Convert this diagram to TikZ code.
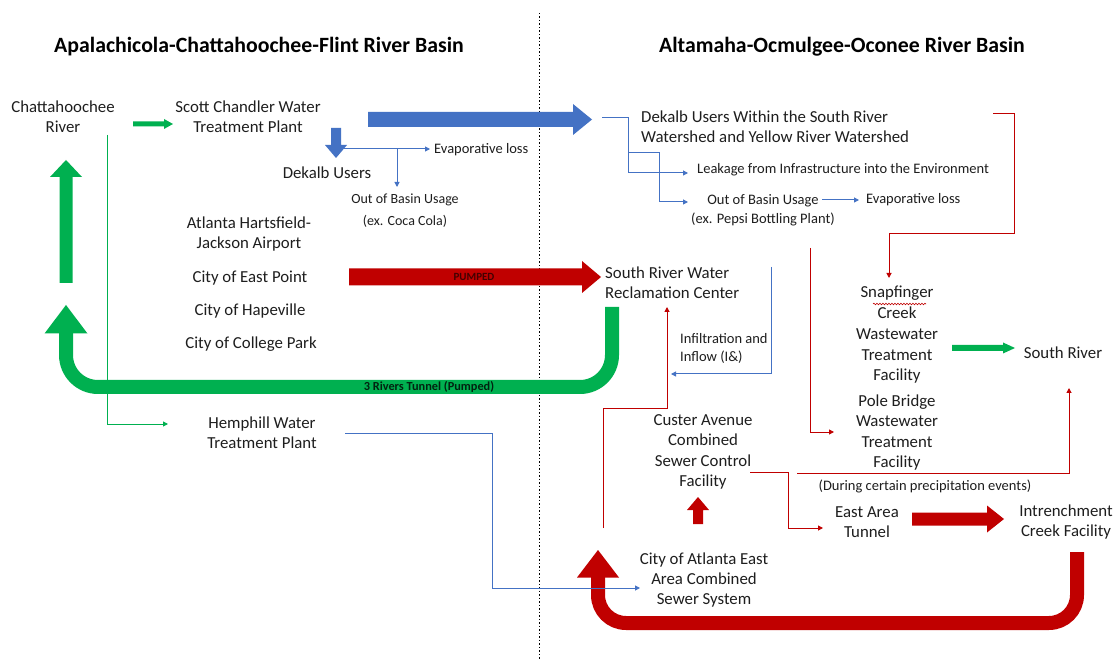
\documentclass[tikz,border=0pt]{standalone}
\usepackage{fontspec}
\setmainfont{Carlito}
\usetikzlibrary{arrows.meta,decorations.pathmorphing,calc}
\definecolor{cblue}{HTML}{4472C4}
\definecolor{cgreen}{HTML}{00B050}
\definecolor{cred}{HTML}{C00000}
\definecolor{tc}{HTML}{1E1E1E}
\begin{document}
\begin{tikzpicture}[x=1pt,y=-1pt,
  mainf/.style={font=\fontsize{16.8}{20.4}\selectfont, text=tc, align=center, inner sep=0pt},
  smallf/.style={font=\fontsize{14.5}{19}\selectfont, text=tc, align=center, inner sep=0pt},
  ttl/.style={font=\bfseries\fontsize{21.8}{26}\selectfont, text=black, inner sep=0pt},
  tb/.style={draw=cblue, line width=1pt, -{Triangle[width=5pt,length=5pt]}},
  tg/.style={draw=cgreen, line width=1pt, -{Triangle[width=5pt,length=5pt]}},
  trd/.style={draw=cred, line width=1pt, -{Triangle[width=5pt,length=5pt]}},
  tbn/.style={draw=cblue, line width=1pt}
]
\fill[white] (0,0) rectangle (1117,660);
\useasboundingbox (0,0) rectangle (1117,660);

% divider
\draw[black, line width=1pt, dash pattern=on 1.5pt off 2pt] (539,13) -- (539,660);

% titles
\node[ttl] (tl) at (259,47) {Apalachicola-Chattahoochee-Flint River Basin};
\node[ttl] (tr) at (842,47) {Altamaha-Ocmulgee-Oconee River Basin};

% left side text
\node[mainf] (chat) at (63,117) {Chattahoochee\\River};
\node[mainf] (scott) at (248,117) {Scott Chandler Water\\Treatment Plant};
\node[mainf] (dekalb) at (327,173) {Dekalb Users};
\node[smallf, font=\fontsize{14}{22}\selectfont] (oob1) at (405,211) {Out of Basin Usage\\(ex. Coca Cola)};
\node[smallf, anchor=west] (evap1) at (434,150) {Evaporative loss};
\node[mainf] (atl) at (249,234) {Atlanta Hartsfield-\\Jackson Airport};
\node[mainf] (eastpt) at (250,278) {City of East Point};
\node[mainf] (hape) at (250,311) {City of Hapeville};
\node[mainf] (college) at (251,344) {City of College Park};
\node[mainf] (hemp) at (262,433) {Hemphill Water\\Treatment Plant};

% right side text
\node[mainf, align=left, anchor=west] (dkw) at (641,127) {Dekalb Users Within the South River\\Watershed and Yellow River Watershed};
\node[smallf, anchor=west] (leak) at (697,170) {Leakage from Infrastructure into the Environment};
\node[smallf] (oob2) at (763,210.5) {Out of Basin Usage\\(ex. Pepsi Bottling Plant)};
\node[smallf, anchor=west] (evap2) at (866,200) {Evaporative loss};
\node[mainf, align=left, anchor=west] (srwrc) at (605,282.5) {South River Water\\Reclamation Center};
\node[smallf, align=left, anchor=west, font=\fontsize{14.5}{18}\selectfont] (infl) at (680,348) {Infiltration and\\Inflow (I\&)};
\node[mainf, font=\fontsize{16.8}{20.75}\selectfont] (snap) at (897,335) {Snapfinger\\Creek\\Wastewater\\Treatment\\Facility};
\node[mainf] (pole) at (897,432.5) {Pole Bridge\\Wastewater\\Treatment\\Facility};
\node[mainf] (southr) at (1063,353) {South River};
\node[mainf] (custer) at (703,452) {Custer Avenue\\Combined\\Sewer Control\\Facility};
\node[smallf] (during) at (925,486) {(During certain precipitation events)};
\node[mainf] (eastarea) at (867,522) {East Area\\Tunnel};
\node[mainf] (intr) at (1066,522) {Intrenchment\\Creek Facility};
\node[mainf] (coa) at (704,580) {City of Atlanta East\\Area Combined\\Sewer System};

% spell-check squiggle under Snapfinger
\draw[cred, line width=0.6pt, decorate, decoration={snake, amplitude=0.8pt, segment length=3pt}] (873,304) -- (926,304);

% ---------- block arrows ----------
% Scott Chandler -> Dekalb Users Within (big blue)
\fill[cblue] (368,112) -- (573,112) -- (573,104) -- (592,119.5) -- (573,135) -- (573,127) -- (368,127) -- cycle;
% Chattahoochee -> Scott Chandler (small green)
\fill[cgreen] (133,121.5) -- (164,121.5) -- (164,119) -- (173,124) -- (164,129) -- (164,126.5) -- (133,126.5) -- cycle;
% Scott Chandler -> Dekalb Users (small blue down)
\fill[cblue] (331,128) -- (341,128) -- (341,145) -- (347,145) -- (336,158) -- (325,145) -- (331,145) -- cycle;
% Pumped red
\fill[cred] (349,268.5) -- (582,268.5) -- (582,261) -- (601,277) -- (582,293) -- (582,285.5) -- (349,285.5) -- cycle;
\node[font=\bfseries\fontsize{11}{12}\selectfont, text=black!65!cred, inner sep=0pt] (pumped) at (474,277) {PUMPED};
% green up to Chattahoochee
\fill[cgreen] (59.5,283) -- (59.5,177) -- (50,177) -- (66,160) -- (82,177) -- (72.5,177) -- (72.5,283) -- cycle;
% 3 Rivers Tunnel loop
\draw[cgreen, line width=14pt, rounded corners=32pt] (612,307) -- (612,387) -- (66,387) -- (66,333);
\fill[cgreen] (44.5,333.5) -- (66,305) -- (87.5,333.5) -- cycle;
\node[font=\bfseries\fontsize{12.3}{13}\selectfont, text=black!80!cgreen, inner sep=0pt] (tunnel) at (429,387) {3 Rivers Tunnel (Pumped)};
% Snapfinger -> South River
\fill[cgreen] (952,345) -- (1003,345) -- (1003,342.5) -- (1015,348) -- (1003,353.5) -- (1003,351) -- (952,351) -- cycle;
% City of Atlanta -> Custer (small red up)
\fill[cred] (693,524) -- (693,510) -- (687,510) -- (698,497) -- (709,510) -- (703,510) -- (703,524) -- cycle;
% East Area -> Intrenchment
\fill[cred] (912,512.5) -- (987,512.5) -- (987,505.5) -- (1004,519) -- (987,532.5) -- (987,525.5) -- (912,525.5) -- cycle;
% Intrenchment -> City of Atlanta loop
\draw[cred, line width=14pt, rounded corners=28pt] (1077,552) -- (1077,623) -- (598,623) -- (598,577);
\fill[cred] (577,577.5) -- (598,550) -- (619,577.5) -- cycle;

% ---------- thin connectors ----------
\coordinate (j1) at (336,149);
\coordinate (j2) at (397,149);
\draw[tb] (j1) -- ([xshift=-4pt]evap1.west |- j1);
\draw[tb] (j2) -- (397,187);

\coordinate (b0) at (602,118);
\coordinate (b1) at (628,118);
\coordinate (b2) at (628,153);
\draw[tb] (b0) -- (b1) -- (628,173) -- (688,173);
\draw[tb] (b2) -- (659,153) -- (659,202) -- (688,202);
\draw[tb] (822,200) -- ([xshift=-7pt]evap2.west);
\draw[tb] (771,267) -- (771,374) -- (671,374);
\draw[tb] (345,433) -- (492,433) -- (492,588) -- (640,588);

\draw[tg] (107,135) -- (107,424) -- (168,424);

\draw[trd] (993,114) -- (1014,114) -- (1014,234) -- (889,234) -- (889,278);
\draw[trd] (810,248) -- (810,432) -- (834,432);
\draw[trd] (603,528) -- (603,408) -- (667,408) -- (667,307);
\draw[trd] (750,472) -- (788,472) -- (788,528) -- (823,528);
\draw[trd] (797,473) -- (1069,473) -- (1069,388);
\end{tikzpicture}
\end{document}
